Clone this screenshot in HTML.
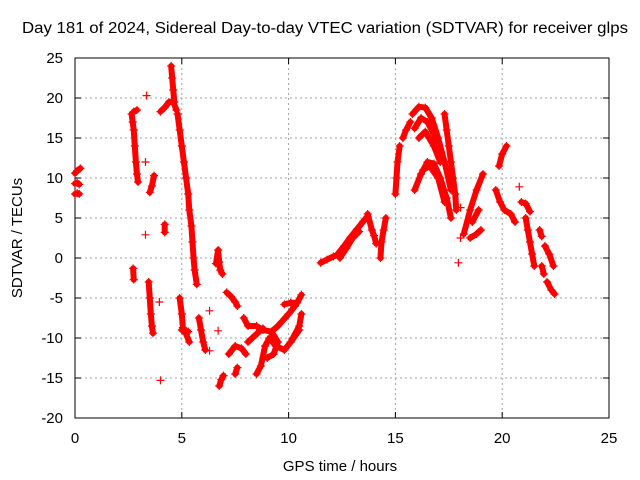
<!DOCTYPE html>
<html><head><meta charset="utf-8"><style>
body{margin:0;background:#fff}
svg{display:block;font-family:"Liberation Sans",sans-serif}
</style></head><body>
<svg id="chart" width="640" height="480">
<rect width="640" height="480" fill="#fff"/>
<text x="22" y="33" font-size="15.5" textLength="606" lengthAdjust="spacingAndGlyphs">Day 181 of 2024, Sidereal Day-to-day VTEC variation (SDTVAR) for receiver glps</text>
<g id="grid"></g>
<g id="axes"></g>
<g id="marks"></g>
<text x="340" y="471" font-size="15" text-anchor="middle">GPS time / hours</text>
<text transform="translate(22,238) rotate(-90)" font-size="15" text-anchor="middle">SDTVAR / TECUs</text>
</svg>
<script>
const xTicks=[0,5,10,15,20,25];
const yTicks=[-20,-15,-10,-5,0,5,10,15,20,25];
const tracks=[
[[0,10.6],[0.1,10.9],[0.25,11.2]],
[[0,9.3],[0.1,9.4],[0.2,9.2]],
[[0,8],[0.1,8.1],[0.2,8]],
[[2.65,18],[2.7,17],[2.75,16],[2.8,14],[2.85,12],[2.9,10.5],[2.95,9.5]],
[[2.75,18.3],[2.9,18.5]],
[[2.72,-1.3],[2.75,-2.7]],
[[3.45,-3],[3.5,-5],[3.55,-7],[3.6,-8.5],[3.65,-9.4]],
[[3.5,8.2],[3.6,9],[3.7,10.3]],
[[3.35,20.3]],[[3.3,12]],[[3.3,2.9]],[[4.0,-15.3]],[[3.95,-5.5]],[[4.2,4.2],[4.2,3.2]],
[[4.0,18.3],[4.2,18.8],[4.4,19.5],[4.6,19.5],[4.75,18.5]],
[[4.5,24],[4.55,22.5],[4.6,21],[4.65,19.5]],
[[4.8,18],[4.9,16],[5.0,14],[5.1,12],[5.2,10],[5.3,8],[5.35,6],[5.45,4],[5.5,2],[5.55,0],[5.6,-1.5],[5.7,-3.3]],
[[4.9,-5],[5.0,-7],[5.05,-8.7],[5.2,-9.5],[5.35,-10.5]],
[[5.0,-9],[5.3,-9.2]],
[[5.8,-7.5],[5.9,-9],[6.0,-10.5],[6.1,-11.5]],[[6.3,-6.6]],[[6.3,-11.6]],
[[6.6,-0.7],[6.7,1.0],[6.75,-0.5],[6.8,-1.5],[6.9,-2.0]],
[[6.7,-9.1]],
[[7.1,-4.3],[7.3,-4.8],[7.5,-5.5],[7.6,-6]],
[[6.75,-16],[6.85,-15.2],[6.95,-14.7]],
[[7.2,-12],[7.5,-11],[7.8,-11.3],[8.0,-12]],
[[7.5,-14.5],[7.6,-13.7]],
[[7.9,-7.5],[8.1,-8.5],[8.5,-8.5],[8.8,-9],[9.2,-9.2],[9.5,-8.5],[10,-7],[10.3,-6]],
[[8.1,-10.5],[8.5,-9.5],[8.8,-8.8]],
[[8.5,-14.5],[8.7,-13.5],[8.9,-11],[9.1,-10],[9.4,-11],[9.8,-11.5],[10.1,-10.5],[10.5,-9]],
[[9.2,-9.2],[9.5,-10.5],[9.3,-12],[9.0,-12.5]],
[[9.8,-5.8],[10.1,-5.6],[10.4,-5.6],[10.6,-4.6]],
[[10.2,-10],[10.5,-8.5],[10.6,-7]],
[[11.5,-0.6],[11.8,-0.2],[12.1,0.2],[12.4,0.5]],
[[12.3,0.5],[12.6,1.5],[12.9,2.6],[13.2,3.6],[13.5,4.6],[13.7,5.2]],
[[12.4,0],[12.7,1.2],[13.0,2.5],[13.3,3.3]],
[[13.7,5.5],[13.9,3.5],[14.0,2.8],[14.1,1.8]],
[[14.3,0],[14.35,2],[14.45,3.5],[14.55,5]],
[[15.0,8],[15.05,10],[15.1,12],[15.2,14]],
[[15.35,15],[15.5,16],[15.7,17]],
[[15.8,18],[16.1,18.9],[16.4,18.8],[16.7,17.5],[17.0,15],[17.3,12],[17.6,8.5]],
[[15.9,16.2],[16.2,17.5],[16.5,17],[16.8,15.5],[17.1,13]],
[[16.1,15],[16.4,15.8],[16.8,14],[17.1,12]],
[[15.9,8.5],[16.2,10.5],[16.5,12],[16.8,11.8],[17.1,10],[17.4,7.5],[17.6,5]],
[[16.3,11],[16.6,11.5],[17.0,10],[17.3,7]],
[[17.3,18],[17.4,16],[17.5,14],[17.6,12],[17.7,10],[17.8,8],[17.85,6]],
[[18.05,6.3]],[[17.95,-0.6]],[[18.05,2.5]],
[[18.2,3],[18.5,6],[18.8,8.5],[19.1,10.5]],
[[18.6,4.5],[18.9,6]],
[[18.5,2.5],[18.8,3],[19.0,3.5]],
[[19.85,11.5],[20.0,13],[20.2,14]],
[[19.7,8.5],[19.9,7],[20.1,6],[20.4,5.5],[20.6,4.5]],
[[20.8,8.9]],
[[20.9,7],[21.1,6.8],[21.3,5.8]],
[[21.1,5],[21.2,3.5],[21.3,2],[21.4,0.5],[21.5,-1]],
[[21.75,3.5],[21.85,2.7]],
[[22.0,1.5],[22.2,0.5],[22.4,-1]],
[[21.85,-1],[21.95,-2]],
[[22.1,-3],[22.3,-4],[22.45,-4.5]]
];
const L=75,R=609,T=58,B=418;
const sx=t=>L+(t-0)/(25-0)*(R-L);
const sy=v=>B-(v+20)/(45)*(B-T);
const NS='http://www.w3.org/2000/svg';
function mk(tag,attrs,parent){const e=document.createElementNS(NS,tag);for(const k in attrs)e.setAttribute(k,attrs[k]);parent.appendChild(e);return e;}
const grid=document.getElementById('grid'),axes=document.getElementById('axes'),marks=document.getElementById('marks');
xTicks.forEach(t=>{const x=sx(t);
 if(t>0&&t<25){const g=mk('line',{x1:x,x2:x,y1:T,y2:B,stroke:'#a0a0a0','stroke-dasharray':'2,3'},grid);
 
 }
 mk('line',{x1:x,x2:x,y1:B,y2:B-6,stroke:'#000'},axes);mk('line',{x1:x,x2:x,y1:T,y2:T+6,stroke:'#000'},axes);
 const tx=mk('text',{x:x,y:443,'font-size':15,'text-anchor':'middle'},axes);tx.textContent=t;
 
 });
yTicks.forEach(v=>{const y=sy(v);
 if(v>-20&&v<25){const g=mk('line',{x1:L,x2:R,y1:y,y2:y,stroke:'#a0a0a0','stroke-dasharray':'2,3'},grid);
 
 }
 mk('line',{x1:L,x2:L+6,y1:y,y2:y,stroke:'#000'},axes);mk('line',{x1:R,x2:R-6,y1:y,y2:y,stroke:'#000'},axes);
 const tx=mk('text',{x:63,y:y+5,'font-size':15,'text-anchor':'end'},axes);tx.textContent=v;
 
 });
const fr=mk('rect',{x:L,y:T,width:R-L,height:B-T,fill:'none',stroke:'#000'},axes);


tracks.forEach(tr=>{
 if(tr.length>1){const pl=mk('polyline',{points:tr.map(p=>sx(p[0])+','+sy(p[1])).join(' '),fill:'none',stroke:'#f00','stroke-width':6,'stroke-linecap':'round','stroke-linejoin':'round'},marks);
 
 }
 tr.forEach(p=>{const x=sx(p[0]),y=sy(p[1]);
  const c=mk('path',{d:`M${x-4},${y}H${x+4}M${x},${y-4}V${y+4}`,stroke:'#f00','stroke-width':1.2},marks);
  
  });
});
</script>
</body></html>
